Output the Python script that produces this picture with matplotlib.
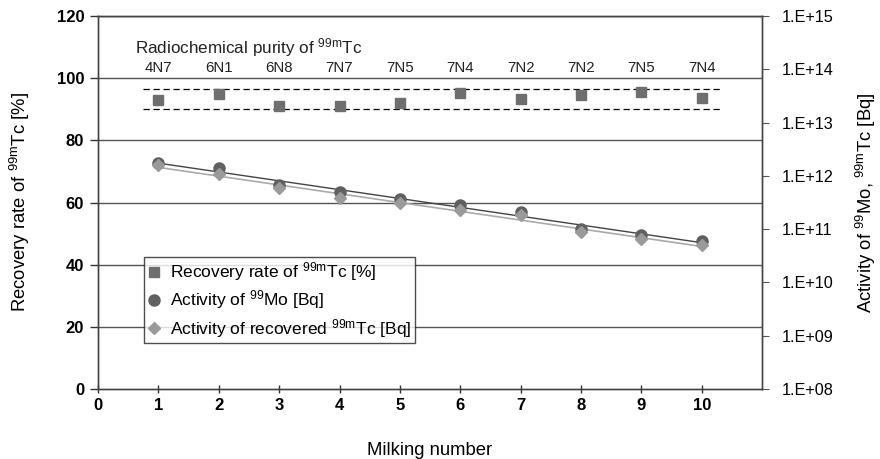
import numpy as np
import matplotlib
matplotlib.use("Agg")
import matplotlib.pyplot as plt
from matplotlib.ticker import FixedLocator, FuncFormatter, NullLocator

plt.rcParams['font.family'] = ['Liberation Sans', 'DejaVu Sans']
plt.rcParams['mathtext.fontset'] = 'custom'
plt.rcParams['mathtext.rm'] = 'Liberation Sans'
plt.rcParams['mathtext.it'] = 'Liberation Sans'

## data
milking = [1, 2, 3, 4, 5, 6, 7, 8, 9, 10]
recovery = [93.0, 94.8, 91.0, 91.1, 92.0, 95.2, 93.4, 94.6, 95.5, 93.7]
act_mo = [1.77e12, 1.39e12, 6.7e11, 5.05e11, 3.63e11, 2.84e11, 2.13e11, 9.9e10, 7.8e10, 6.0e10]
act_tc = [1.60e12, 1.08e12, 5.85e11, 3.9e11, 3.05e11, 2.29e11, 1.85e11, 8.96e10, 6.5e10, 5.05e10]
purity = ['4N7', '6N1', '6N8', '7N7', '7N5', '7N4', '7N2', '7N2', '7N5', '7N4']
band = [90.0, 96.5]

fig = plt.figure(figsize=(8.8, 4.59), dpi=100)
ax = fig.add_axes([0.1114, 0.1525, 0.7546, 0.8125])
ax2 = ax.twinx()

## left axis: recovery rate
ax.set_xlim(0, 11)
ax.set_ylim(0, 120)
ax.set_xticks(range(0, 11))
ax.set_yticks(range(0, 121, 20))
for y in range(20, 121, 20):
    ax.axhline(y, color='#555555', lw=1.0, zorder=1)
for b in band:
    ax.plot([0.75, 10.3], [b, b], color='black', lw=0.9, ls=(0, (5, 3)), zorder=2)
sq, = ax.plot(milking, recovery, ls='none', marker='s', ms=7.5, color='#6e6e6e', zorder=5,
              label=r'Recovery rate of $^{\mathrm{99m}}$Tc [%]')

ax.text(0.62, 109.8, r'Radiochemical purity of $^{\mathrm{99m}}$Tc', fontsize=12.3,
        va='center', ha='left', color='#222222')
for x, p in zip(milking, purity):
    ax.text(x, 103.4, p, fontsize=10.8, ha='center', va='center', color='#222222')

ax.tick_params(axis='x', direction='inout', length=6, width=1, color='#333333')
ax.tick_params(axis='y', direction='out', length=6, width=1, color='#333333', pad=4)
for lab in ax.get_xticklabels() + ax.get_yticklabels():
    lab.set_fontweight('bold')
    lab.set_fontsize(12)
ax.set_ylabel(r'Recovery rate of $^{\mathrm{99m}}$Tc [%]', fontsize=13.3, labelpad=18)
ax.set_xlabel('Milking number', fontsize=13.3, labelpad=21)

## right axis: activities (log)
ax2.set_yscale('log')
ax2.set_ylim(1e8, 1e15)
ax2.yaxis.set_major_locator(FixedLocator([10.0 ** k for k in range(8, 16)]))
ax2.yaxis.set_minor_locator(NullLocator())
ax2.yaxis.set_major_formatter(FuncFormatter(lambda v, pos: '1.E+%02d' % round(np.log10(v))))
ax2.tick_params(axis='y', direction='out', length=5, color='#555555', labelsize=11.7, pad=9)

xs = np.array(milking, dtype=float)
fit_mo = np.polyfit(xs, np.log10(act_mo), 1)
fit_tc = np.polyfit(xs, np.log10(act_tc), 1)
ax2.plot(xs, 10 ** np.polyval(fit_tc, xs), color='#aaaaaa', lw=1.2, zorder=3)
ax2.plot(xs, 10 ** np.polyval(fit_mo, xs), color='#444444', lw=1.0, zorder=3)
ci, = ax2.plot(milking, act_mo, ls='none', marker='o', ms=8, color='#606060', zorder=4,
               label=r'Activity of $^{\mathrm{99}}$Mo [Bq]')
di, = ax2.plot(milking, act_tc, ls='none', marker='D', ms=6.5, color='#9a9a9a', zorder=5,
               label=r'Activity of recovered $^{\mathrm{99m}}$Tc [Bq]')
ax2.set_ylabel(r'Activity of $^{\mathrm{99}}$Mo, $^{\mathrm{99m}}$Tc [Bq]', fontsize=13.3, labelpad=15)

for a in (ax, ax2):
    for s in a.spines.values():
        s.set_color('#444444')
        s.set_linewidth(1.0)

leg = ax2.legend(handles=[sq, ci, di], loc='upper left', bbox_to_anchor=(0.069, 0.354),
                 fontsize=12.5, frameon=True, fancybox=False, edgecolor='#222222',
                 handlelength=0.8, handletextpad=0.5, borderpad=0.2, labelspacing=0.3,
                 borderaxespad=0)
leg.get_frame().set_linewidth(1.0)
leg.set_zorder(10)

fig.savefig('out.png', dpi=100)
